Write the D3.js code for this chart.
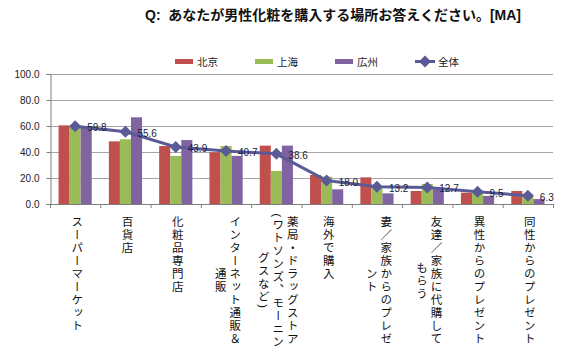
<!DOCTYPE html>
<html>
<head>
<meta charset="utf-8">
<script src="https://cdn.jsdelivr.net/npm/d3@7"></script>
<style>
  body { margin: 0; background: #fff; }
  text { font-family: "Liberation Sans", "Noto Sans CJK JP", sans-serif; }
</style>
</head>
<body>
<div id="chart"></div>
<script>
const categories = ["スーパーマーケット", "百貨店", "化粧品専門店", "インターネット通販＆通販",
  "薬局・ドラッグストア(ワトソンズ、モーニングスなど)", "海外で購入", "妻／家族からのプレゼント",
  "友達／家族に代購してもらう", "異性からのプレゼント", "同性からのプレゼント"];
// how the tick labels wrap into columns in the original
const labelLines = [
  ["スーパーマーケット"],
  ["百貨店"],
  ["化粧品専門店"],
  ["インターネット通販＆", "通販"],
  ["薬局・ドラッグストア", "(ワトソンズ、モーニン", "グスなど)"],
  ["海外で購入"],
  ["妻／家族からのプレゼ", "ント"],
  ["友達／家族に代購して", "もらう"],
  ["異性からのプレゼント"],
  ["同性からのプレゼント"]
];
const seriesNames = ["北京", "上海", "広州"];
const beijing   = [60.5, 48.2, 44.6, 39.8, 44.9, 22.3, 20.5, 10.0, 8.7, 10.0];
const shanghai  = [59.5, 49.8, 37.0, 44.6, 25.4, 21.0, 13.3, 15.4, 9.0, 6.5];
const guangzhou = [59.5, 66.7, 49.2, 37.0, 44.9, 11.3, 8.2, 11.3, 6.2, 3.8];
const totalName = "全体";
const total     = [59.8, 55.6, 43.9, 40.7, 38.6, 18.0, 13.2, 12.7, 9.5, 6.3];
const yTicks = [0, 20, 40, 60, 80, 100];
const title = "Q:  あなたが男性化粧を購入する場所お答えください。[MA]";

const width = 568, height = 362;
const colors = ["#c0504d", "#9bbb59", "#8064a2"];
const lineColor = "#5a5a96";
const margin = { left: 50, right: 15, top: 74, bottom: 158 };

const svg = d3.select("#chart").append("svg")
  .attr("width", width)
  .attr("height", height);

const x0 = d3.scaleBand()
  .domain(categories)
  .range([margin.left, width - margin.right])
  .paddingInner(0.34)
  .paddingOuter(0.17);

const x1 = d3.scaleBand()
  .domain(seriesNames)
  .range([0, x0.bandwidth()]);

const y = d3.scaleLinear()
  .domain([0, 100])
  .range([height - margin.bottom, margin.top]);

const color = d3.scaleOrdinal().domain(seriesNames).range(colors);

// title
svg.append("text")
  .attr("x", 145)
  .attr("y", 20)
  .attr("font-size", 14)
  .attr("font-weight", "bold")
  .attr("fill", "#111")
  .style("white-space", "pre")
  .text(title);

// grid
svg.append("g")
  .selectAll("line")
  .data(yTicks.filter(d => d > 0))
  .join("line")
  .attr("x1", margin.left)
  .attr("x2", width - margin.right)
  .attr("y1", d => y(d) + 0.5)
  .attr("y2", d => y(d) + 0.5)
  .attr("stroke", "#a6a6a6")
  .attr("stroke-width", 1);

// y axis
const yAxis = svg.append("g")
  .attr("transform", `translate(${margin.left + 0.5},0)`)
  .call(d3.axisLeft(y).tickValues(yTicks).tickFormat(d3.format(".1f")).tickSize(4).tickPadding(7));
yAxis.select(".domain").attr("stroke", "#7f7f7f");
yAxis.selectAll(".tick line").attr("stroke", "#7f7f7f");
yAxis.selectAll("text").attr("font-size", 10).attr("fill", "#222").attr("font-family", "Liberation Sans");

// bars
const rows = categories.map((c, i) => ({ cat: c, vals: [beijing[i], shanghai[i], guangzhou[i]] }));
svg.append("g")
  .selectAll("g")
  .data(rows)
  .join("g")
  .attr("transform", d => `translate(${x0(d.cat)},0)`)
  .selectAll("rect")
  .data(d => d.vals.map((v, j) => ({ name: seriesNames[j], v })))
  .join("rect")
  .attr("x", d => x1(d.name))
  .attr("width", x1.bandwidth())
  .attr("y", d => y(d.v))
  .attr("height", d => y(0) - y(d.v))
  .attr("fill", d => color(d.name));

// x axis
const step = x0.step();
const xAxis = svg.append("g");
xAxis.append("line")
  .attr("x1", margin.left).attr("x2", width - margin.right)
  .attr("y1", y(0) + 0.5).attr("y2", y(0) + 0.5)
  .attr("stroke", "#7f7f7f");
xAxis.selectAll("line.tick")
  .data(d3.range(categories.length + 1))
  .join("line")
  .attr("class", "tick")
  .attr("x1", i => margin.left + i * step + 0.5)
  .attr("x2", i => margin.left + i * step + 0.5)
  .attr("y1", y(0))
  .attr("y2", y(0) + 4)
  .attr("stroke", "#7f7f7f");

// vertical category labels
const colGap = 14.5;
const labelTop = 216;
labelLines.forEach((lines, i) => {
  const cx = x0(categories[i]) + x0.bandwidth() / 2 + 1;
  const g = svg.append("g");
  const first = g.append("text")
    .attr("x", cx + (lines.length - 1) / 2 * colGap)
    .attr("y", labelTop)
    .style("writing-mode", "vertical-rl")
    .attr("font-size", 11.5)
    .attr("letter-spacing", 1.5)
    .attr("fill", "#111")
    .text(lines[0]);
  const len = first.node().getComputedTextLength();
  lines.slice(1).forEach((ln, k) => {
    g.append("text")
      .attr("x", cx + (lines.length - 1) / 2 * colGap - (k + 1) * colGap)
      .attr("y", labelTop + len / 2)
      .attr("text-anchor", "middle")
      .style("writing-mode", "vertical-rl")
      .attr("font-size", 11.5)
      .attr("letter-spacing", 1.5)
      .attr("fill", "#111")
      .text(ln);
  });
});

// total line
const cx = d => x0(d.cat) + x0.bandwidth() / 2;
const pts = categories.map((c, i) => ({ cat: c, v: total[i] }));
const line = d3.line().x(cx).y(d => y(d.v));
svg.append("path")
  .datum(pts)
  .attr("d", line)
  .attr("fill", "none")
  .attr("stroke", lineColor)
  .attr("stroke-width", 3);

const diamond = "M0,-6L6,0L0,6L-6,0Z";
svg.append("g")
  .selectAll("path")
  .data(pts)
  .join("path")
  .attr("d", diamond)
  .attr("transform", d => `translate(${cx(d)},${y(d.v)})`)
  .attr("fill", lineColor);

svg.append("g")
  .selectAll("text")
  .data(pts)
  .join("text")
  .attr("x", d => cx(d) + 12)
  .attr("y", d => y(d.v) + 5)
  .attr("font-size", 10)
  .attr("fill", "#1a1a3a")
  .text(d => d.v.toFixed(1));

// legend
const legend = svg.append("g");
seriesNames.forEach((n, i) => {
  const lx = 175 + i * 80;
  legend.append("rect")
    .attr("x", lx).attr("y", 59)
    .attr("width", 18).attr("height", 5)
    .attr("fill", colors[i]);
  legend.append("text")
    .attr("x", lx + 22).attr("y", 65.5)
    .attr("font-size", 10.5)
    .attr("fill", "#222")
    .text(n);
});
legend.append("line")
  .attr("x1", 415).attr("x2", 435)
  .attr("y1", 61.5).attr("y2", 61.5)
  .attr("stroke", lineColor).attr("stroke-width", 3);
legend.append("path")
  .attr("d", diamond)
  .attr("transform", "translate(425,61.5)")
  .attr("fill", lineColor);
legend.append("text")
  .attr("x", 438).attr("y", 65.5)
  .attr("font-size", 10.5)
  .attr("fill", "#222")
  .text(totalName);
</script>
</body>
</html>
